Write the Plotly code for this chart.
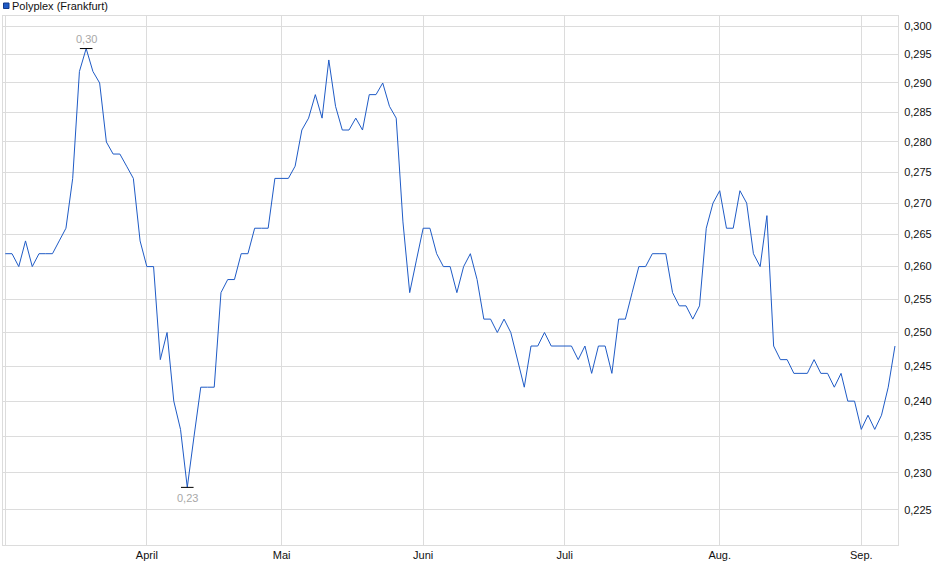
import plotly.graph_objects as go
import pandas as pd
import numpy as np

# Trading days at Frankfurt, March - September 2014 (no quotes on holidays)
holidays = ["2014-04-18", "2014-04-21", "2014-05-01"]
days = pd.bdate_range("2014-03-03", "2014-09-08")
days = days[~days.isin(pd.to_datetime(holidays))]
dates = [d.strftime("%Y-%m-%d") for d in days]

# Closing prices in EUR
prices = [
    0.262, 0.262, 0.260, 0.264, 0.260, 0.262, 0.262, 0.262, 0.264, 0.266,
    0.274, 0.292, 0.296, 0.292, 0.290, 0.280, 0.278, 0.278, 0.276, 0.274,
    0.264, 0.260, 0.260, 0.246, 0.250, 0.240, 0.236, 0.228, 0.235, 0.242,
    0.242, 0.242, 0.256, 0.258, 0.258, 0.262, 0.262, 0.266, 0.266, 0.266,
    0.274, 0.274, 0.274, 0.276, 0.282, 0.284, 0.288, 0.284, 0.294, 0.286,
    0.282, 0.282, 0.284, 0.282, 0.288, 0.288, 0.290, 0.286, 0.284, 0.267,
    0.256, 0.261, 0.266, 0.266, 0.262, 0.260, 0.260, 0.256, 0.260, 0.262,
    0.258, 0.252, 0.252, 0.250, 0.252, 0.250, 0.246, 0.242, 0.248, 0.248,
    0.250, 0.248, 0.248, 0.248, 0.248, 0.246, 0.248, 0.244, 0.248, 0.248,
    0.244, 0.252, 0.252, 0.256, 0.260, 0.260, 0.262, 0.262, 0.262, 0.256,
    0.254, 0.254, 0.252, 0.254, 0.266, 0.270, 0.272, 0.266, 0.266, 0.272,
    0.270, 0.262, 0.260, 0.268, 0.248, 0.246, 0.246, 0.244, 0.244, 0.244,
    0.246, 0.244, 0.244, 0.242, 0.244, 0.240, 0.240, 0.236, 0.238, 0.236,
    0.238, 0.242, 0.248,
]

# First trading day of each month -> axis label
month_days = ["2014-03-03", "2014-04-01", "2014-05-02", "2014-06-02",
              "2014-07-01", "2014-08-01", "2014-09-01"]
month_labels = ["", "April", "Mai", "Juni", "Juli", "Aug.", "Sep."]

price_ticks = [0.225, 0.230, 0.235, 0.240, 0.245, 0.250, 0.255, 0.260,
               0.265, 0.270, 0.275, 0.280, 0.285, 0.290, 0.295, 0.300]

df = pd.DataFrame({"Datum": dates, "Kurs": prices})

line_color = "#1f5bc6"
grid_color = "#dcdcdc"

fig = go.Figure()
fig.add_trace(go.Scatter(
    x=df["Datum"], y=df["Kurs"], mode="lines",
    line=dict(color=line_color, width=1),
    name="Polyplex (Frankfurt)", showlegend=False,
))

# high / low markers
i_max = df["Kurs"].idxmax()
i_min = df["Kurs"].idxmin()
fig.add_trace(go.Scatter(
    x=[df["Datum"][i_max], df["Datum"][i_min]],
    y=[df["Kurs"][i_max], df["Kurs"][i_min]],
    mode="markers", showlegend=False, hoverinfo="skip",
    marker=dict(symbol="line-ew", size=9, line=dict(color="black", width=1)),
))
for i, pos, shift in [(i_max, "bottom", 2), (i_min, "top", -3)]:
    fig.add_annotation(
        x=df["Datum"][i], y=np.log10(df["Kurs"][i]),
        text=f"{df['Kurs'][i]:.2f}".replace(".", ","),
        showarrow=False, yanchor=pos, yshift=shift,
        font=dict(size=11, color="#a8a8a8"),
    )

# legend box + title text
fig.add_shape(
    type="rect", xref="paper", yref="paper",
    xsizemode="pixel", ysizemode="pixel", xanchor=0, yanchor=1,
    x0=0.5, x1=6, y0=7.5, y1=13,
    fillcolor=line_color, line=dict(color="#123a8a", width=1),
)
fig.add_annotation(
    x=0, y=1, xref="paper", yref="paper", xanchor="left", yanchor="middle",
    xshift=7, yshift=10, showarrow=False, text="Polyplex (Frankfurt)",
    font=dict(size=11, color="#111111"),
)

fig.update_xaxes(
    type="category", range=[-0.34, 132.45],
    tickvals=month_days, ticktext=month_labels,
    showgrid=True, gridcolor=grid_color, gridwidth=1,
    showline=True, linecolor=grid_color, mirror=True,
    ticks="", tickfont=dict(size=11, color="#111111"),
)
fig.update_yaxes(
    type="log", side="right",
    range=[np.log10(0.220318), np.log10(0.301789)],
    tickvals=price_ticks, ticktext=[f"{v:.3f}".replace(".", ",") for v in price_ticks],
    showgrid=True, gridcolor=grid_color, gridwidth=1,
    showline=True, linecolor=grid_color, mirror=True,
    ticks="", ticklabelstandoff=3, tickfont=dict(size=11, color="#111111"),
    zeroline=False,
)
fig.update_layout(
    width=940, height=579,
    margin=dict(l=3, r=42, t=16, b=34),
    paper_bgcolor="white", plot_bgcolor="white",
    font=dict(family="Liberation Sans, Arial, sans-serif", size=11),
    showlegend=False,
)

# page body has a default 8px margin; drop it so the figure fills the window
fig.write_html("out.html", config={"displayModeBar": False},
               post_script="document.body.style.margin='0';")
